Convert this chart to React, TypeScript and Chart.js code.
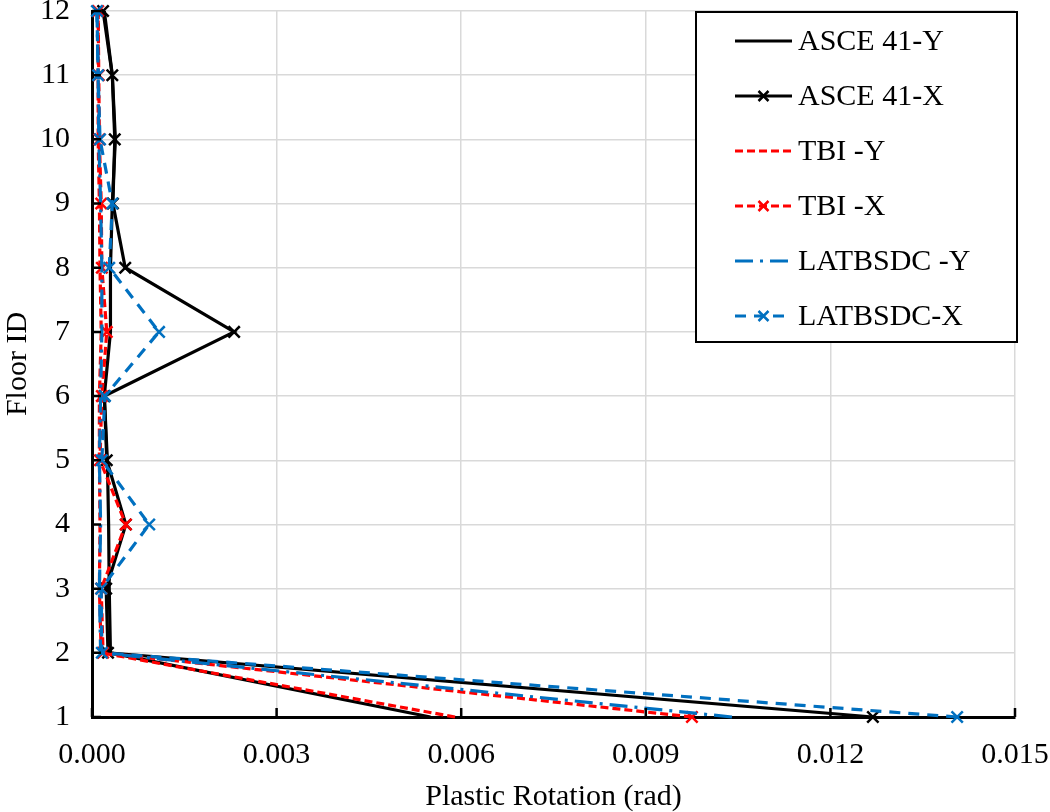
import { useEffect, useRef } from "react";
import { Chart, registerables } from "chart.js";

Chart.register(...registerables);

// floor numbers (y) and plastic rotation values (x)
const FLOORS = [1, 2, 3, 4, 5, 6, 7, 8, 9, 10, 11, 12];
const X_TICKS = [0, 0.003, 0.006, 0.009, 0.012, 0.015];

const ASCE_Y = [0.0055, 0.0003, 0.00028, 0.00027, 0.00025, 0.0002, 0.0003, 0.0003, 0.00033, 0.00038, 0.00033, 0.0002];
const ASCE_X = [0.01269, 0.00026, 0.00023, 0.00055, 0.00024, 0.0002, 0.00231, 0.00054, 0.00034, 0.00037, 0.00033, 0.00018];
const TBI_Y = [0.0059, 0.00015, 0.00012, 0.00013, 0.00012, 0.00012, 0.00015, 0.00013, 0.00012, 0.0001, 0.0001, 0.0001];
const TBI_X = [0.00975, 0.00018, 0.00015, 0.00055, 0.00013, 0.00016, 0.00024, 0.00016, 0.00015, 0.00012, 0.00011, 0.0001];
const LAT_Y = [0.0104, 0.00014, 0.00012, 0.00014, 0.00012, 0.00014, 0.00016, 0.00016, 0.00014, 0.00011, 0.0001, 0.00008];
const LAT_X = [0.01406, 0.00016, 0.00015, 0.00093, 0.00016, 0.00021, 0.00109, 0.00028, 0.00033, 0.00013, 0.0001, 0.00008];

const SERIES = [
  { label: "ASCE 41-Y", values: ASCE_Y, color: "#000000", dash: [], marker: false },
  { label: "ASCE 41-X", values: ASCE_X, color: "#000000", dash: [], marker: true },
  { label: "TBI -Y", values: TBI_Y, color: "#ff0000", dash: [8, 4], marker: false },
  { label: "TBI -X", values: TBI_X, color: "#ff0000", dash: [8, 4], marker: true },
  { label: "LATBSDC -Y", values: LAT_Y, color: "#0070c0", dash: [18, 7, 3, 7], marker: false },
  { label: "LATBSDC-X", values: LAT_X, color: "#0070c0", dash: [11, 8], marker: true },
];

const FONT = "'Liberation Serif', 'Times New Roman', serif";

const drawCross = (ctx: CanvasRenderingContext2D, x: number, y: number, r: number) => {
  ctx.beginPath();
  ctx.moveTo(x - r, y - r);
  ctx.lineTo(x + r, y + r);
  ctx.moveTo(x - r, y + r);
  ctx.lineTo(x + r, y - r);
  ctx.stroke();
};

// tick marks on the inner side of both axes
const innerTicks = {
  id: "innerTicks",
  afterDatasetsDraw(chart: any) {
    const { ctx, chartArea, scales } = chart;
    ctx.save();
    ctx.strokeStyle = "#000";
    ctx.lineWidth = 2.5;
    ctx.beginPath();
    scales.x.ticks.forEach((t: any) => {
      const px = scales.x.getPixelForValue(t.value);
      ctx.moveTo(px, chartArea.bottom);
      ctx.lineTo(px, chartArea.bottom - 9);
    });
    scales.y.ticks.forEach((t: any) => {
      const py = scales.y.getPixelForValue(t.value);
      ctx.moveTo(chartArea.left, py);
      ctx.lineTo(chartArea.left + 9, py);
    });
    ctx.stroke();
    ctx.restore();
  },
};

// boxed legend in the top-right corner of the plot
const boxLegend = {
  id: "boxLegend",
  afterDraw(chart: any) {
    const { ctx, chartArea } = chart;
    const right = chartArea.right + 2;
    const left = right - 321;
    const top = chartArea.top + 1;
    const h = 330;
    ctx.save();
    ctx.fillStyle = "#fff";
    ctx.fillRect(left, top, right - left, h);
    ctx.strokeStyle = "#000";
    ctx.lineWidth = 2;
    ctx.strokeRect(left, top, right - left, h);
    chart.data.datasets.forEach((ds: any, i: number) => {
      const y = top + 29 + i * 55;
      const x0 = left + 39;
      const x1 = left + 96;
      ctx.strokeStyle = ds.borderColor;
      ctx.lineWidth = 3;
      ctx.setLineDash(ds.borderDash || []);
      ctx.beginPath();
      ctx.moveTo(x0, y);
      ctx.lineTo(x1, y);
      ctx.stroke();
      ctx.setLineDash([]);
      if (ds.pointRadius > 0) {
        ctx.lineWidth = 2.5;
        drawCross(ctx, (x0 + x1) / 2, y, 5);
      }
      ctx.fillStyle = "#000";
      ctx.font = `30px ${FONT}`;
      ctx.textBaseline = "middle";
      ctx.textAlign = "left";
      ctx.fillText(ds.label, x1 + 6, y + 1);
    });
    ctx.restore();
  },
};

export default function App() {
  const chartRef = useRef<HTMLCanvasElement>(null);
  const chartInstance = useRef<Chart | null>(null);

  useEffect(() => {
    if (!chartRef.current) return;
    if (chartInstance.current) chartInstance.current.destroy();
    const ctx = chartRef.current.getContext("2d");
    if (!ctx) return;

    chartInstance.current = new Chart(ctx, {
      type: "scatter",
      data: {
        datasets: SERIES.map((s, i) => ({
          label: s.label,
          data: FLOORS.map((f, k) => ({ x: s.values[k], y: f })),
          showLine: true,
          borderColor: s.color,
          backgroundColor: s.color,
          borderWidth: 3.2,
          borderDash: s.dash,
          pointStyle: "crossRot",
          pointRadius: s.marker ? 8 : 0,
          pointBorderWidth: 2.5,
          pointBorderColor: s.color,
          clip: false,
          order: SERIES.length - i,
        })),
      },
      options: {
        responsive: false,
        animation: false,
        layout: { padding: { top: 11, right: 35, left: 0, bottom: 0 } },
        plugins: {
          legend: { display: false },
          tooltip: { enabled: false },
        },
        scales: {
          x: {
            type: "linear",
            min: 0,
            max: 0.015,
            afterBuildTicks: (scale: any) => {
              scale.ticks = X_TICKS.map((v) => ({ value: v }));
            },
            afterFit: (scale: any) => {
              scale.height = 95;
              scale.paddingLeft = 0;
              scale.paddingRight = 0;
            },
            ticks: {
              color: "#000",
              padding: 20,
              font: { family: FONT, size: 30 },
              callback: (v: any) => Number(v).toFixed(3),
            },
            grid: { color: "#d9d9d9", lineWidth: 1.5, drawTicks: false },
            border: { color: "#000", width: 3 },
            title: {
              display: true,
              text: "Plastic Rotation (rad)",
              color: "#000",
              font: { family: FONT, size: 30 },
              padding: { top: 0, bottom: -3 },
            },
          },
          y: {
            type: "linear",
            min: 1,
            max: 12,
            afterBuildTicks: (scale: any) => {
              scale.ticks = FLOORS.map((v) => ({ value: v }));
            },
            afterFit: (scale: any) => {
              scale.width = 92;
              scale.paddingTop = 0;
              scale.paddingBottom = 0;
            },
            ticks: {
              color: "#000",
              padding: 22,
              font: { family: FONT, size: 30 },
            },
            grid: { color: "#d9d9d9", lineWidth: 1.5, drawTicks: false },
            border: { color: "#000", width: 3 },
            title: {
              display: true,
              text: "Floor ID",
              color: "#000",
              font: { family: FONT, size: 30 },
              padding: { top: 0, bottom: 0 },
            },
          },
        },
      },
      plugins: [innerTicks, boxLegend],
    });

    return () => {
      if (chartInstance.current) {
        chartInstance.current.destroy();
        chartInstance.current = null;
      }
    };
  }, []);

  return (
    <div style={{ position: "absolute", left: 0, top: 0, width: 1050, height: 812, background: "#fff" }}>
      <canvas ref={chartRef} width={1050} height={812} style={{ display: "block" }}></canvas>
    </div>
  );
}
